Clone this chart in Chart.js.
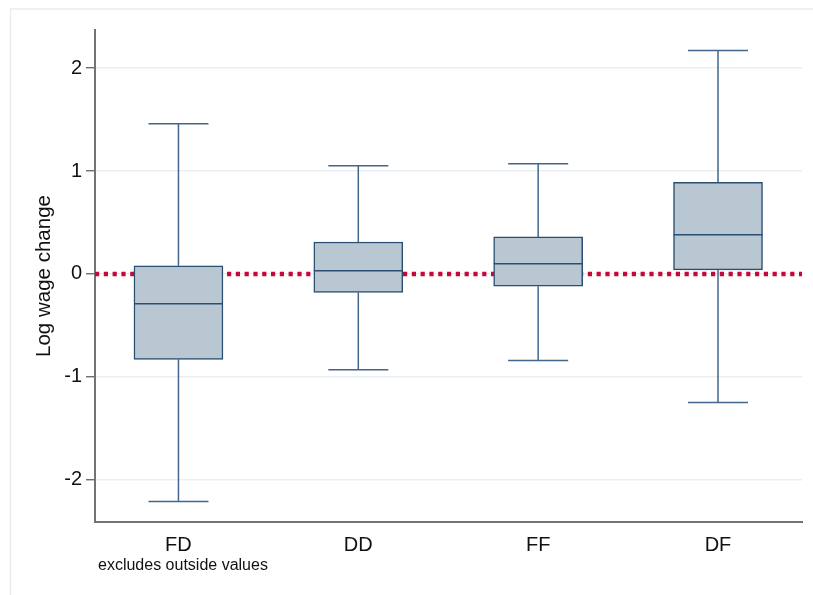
<!DOCTYPE html>
<html>
<head>
<meta charset="utf-8">
<script src="https://cdn.jsdelivr.net/npm/chart.js@4.4.1/dist/chart.umd.min.js"></script>
<style>
  html, body { margin: 0; padding: 0; background: #fff; }
  #wrap { width: 813px; height: 595px; position: relative; }
</style>
</head>
<body>
<div id="wrap"><canvas id="boxChart" width="813" height="595"></canvas></div>
<script>
// Dados
const categories = ["FD", "DD", "FF", "DF"];
const whiskerLow = [-2.21, -0.93, -0.84, -1.25];
const quartile1 = [-0.83, -0.18, -0.12, 0.04];
const medians = [-0.29, 0.03, 0.10, 0.38];
const quartile3 = [0.08, 0.31, 0.36, 0.89];
const whiskerHigh = [1.46, 1.05, 1.07, 2.17];
const yTicks = [-2, -1, 0, 1, 2];
const referenceLine = 0;
const noteText = "excludes outside values";

const xMin = -0.464, xMax = 3.467;
const fontFamily = "'Liberation Sans', Arial, sans-serif";
const whiskerColor = "#42678a";
const boxLineColor = "#2a4e72";

// caixas como barras flutuantes
const boxData = categories.map((c, i) => ({ x: i, y: [quartile1[i], quartile3[i]] }));

// Plugin: bigodes, mediana, moldura e nota
const boxPlotExtras = {
    id: "boxPlotExtras",
    beforeDraw(chart) {
        const ctx = chart.ctx;
        ctx.save();
        ctx.strokeStyle = "#e6edf1";
        ctx.lineWidth = 1.5;
        ctx.strokeRect(10.5, 9, 820, 620);
        ctx.restore();
    },
    afterDatasetsDraw(chart) {
        const ctx = chart.ctx;
        const xs = chart.scales.x;
        const ys = chart.scales.y;
        const half = 44.5;
        const capHalf = 30;
        ctx.save();
        categories.forEach((c, i) => {
            const cx = xs.getPixelForValue(i);
            const yLow = ys.getPixelForValue(whiskerLow[i]);
            const yQ1 = ys.getPixelForValue(quartile1[i]);
            const yMed = ys.getPixelForValue(medians[i]);
            const yQ3 = ys.getPixelForValue(quartile3[i]);
            const yHigh = ys.getPixelForValue(whiskerHigh[i]);

            ctx.strokeStyle = whiskerColor;
            ctx.lineWidth = 1.5;
            ctx.beginPath();
            ctx.moveTo(cx, yQ3); ctx.lineTo(cx, yHigh);
            ctx.moveTo(cx - capHalf, yHigh); ctx.lineTo(cx + capHalf, yHigh);
            ctx.moveTo(cx, yQ1); ctx.lineTo(cx, yLow);
            ctx.moveTo(cx - capHalf, yLow); ctx.lineTo(cx + capHalf, yLow);
            ctx.stroke();

            ctx.strokeStyle = boxLineColor;
            ctx.beginPath();
            ctx.moveTo(cx - half, yMed); ctx.lineTo(cx + half, yMed);
            ctx.stroke();
        });

        ctx.fillStyle = "#111";
        ctx.font = "16px " + fontFamily;
        ctx.textAlign = "left";
        ctx.textBaseline = "middle";
        ctx.fillText(noteText, chart.chartArea.left + 3, 566);
        ctx.restore();
    }
};

const ctx = document.getElementById("boxChart").getContext("2d");
new Chart(ctx, {
    type: "bar",
    data: {
        datasets: [
            {
                type: "bar",
                label: "box",
                data: boxData,
                order: 1,
                backgroundColor: "#b9c7d3",
                borderColor: boxLineColor,
                borderWidth: 1.5,
                borderSkipped: false,
                barThickness: 89
            },
            {
                type: "line",
                label: "zero",
                data: [{ x: xMin, y: referenceLine }, { x: xMax, y: referenceLine }],
                order: 2,
                borderColor: "#c4083a",
                borderWidth: 4.5,
                borderDash: [4.2, 4.6],
                pointRadius: 0,
                fill: false
            }
        ]
    },
    options: {
        responsive: false,
        animation: false,
        devicePixelRatio: 1,
        layout: { padding: { left: 0, top: 30, right: 11, bottom: 0 } },
        plugins: {
            legend: { display: false },
            tooltip: { enabled: false }
        },
        scales: {
            x: {
                type: "linear",
                min: xMin,
                max: xMax,
                offset: false,
                afterBuildTicks(scale) {
                    scale.ticks = categories.map((c, i) => ({ value: i }));
                },
                afterFit(scale) { scale.height = 73; },
                grid: { display: false, drawTicks: false, offset: false },
                border: { display: true, color: "#737373", width: 2 },
                ticks: {
                    autoSkip: false,
                    maxRotation: 0,
                    padding: 11,
                    color: "#111",
                    font: { family: fontFamily, size: 20 },
                    callback: (v) => categories[v]
                }
            },
            y: {
                type: "linear",
                min: -2.41,
                max: 2.37,
                afterBuildTicks(scale) {
                    scale.ticks = yTicks.map(v => ({ value: v }));
                },
                afterFit(scale) { scale.width = 95; },
                grid: {
                    color: "#e9eff3",
                    lineWidth: 1.5,
                    tickColor: "#555",
                    tickLength: 9,
                    tickWidth: 1.2
                },
                border: { display: true, color: "#737373", width: 2 },
                ticks: {
                    padding: 4,
                    color: "#111",
                    font: { family: fontFamily, size: 20 }
                },
                title: {
                    display: true,
                    text: "Log wage change",
                    color: "#111",
                    font: { family: fontFamily, size: 20.5 },
                    padding: { top: 32.5, bottom: 0 }
                }
            }
        }
    },
    plugins: [boxPlotExtras]
});
</script>
</body>
</html>
